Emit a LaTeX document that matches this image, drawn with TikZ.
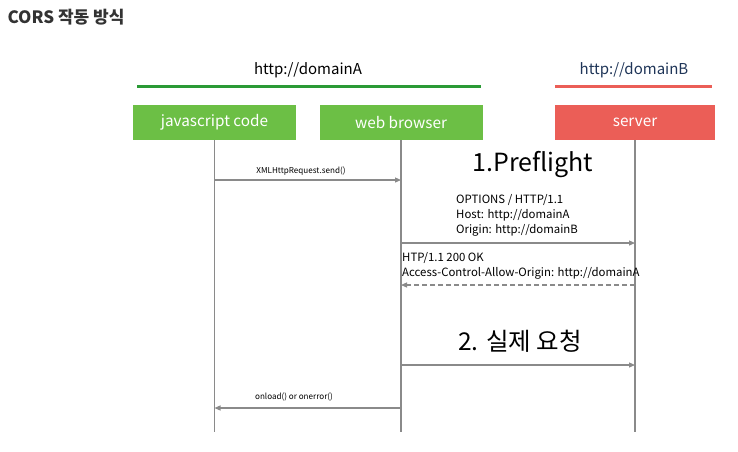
\documentclass[tikz,border=0pt]{standalone}
\usepackage{fontspec}
\setmainfont{Noto Sans CJK KR}
\usetikzlibrary{arrows.meta}
\definecolor{boxgreen}{HTML}{6CBF45}
\definecolor{linegreen}{HTML}{2A9A35}
\definecolor{boxred}{HTML}{EB5E57}
\definecolor{textblue}{HTML}{1F3558}
\definecolor{lifegray}{HTML}{8A8A8A}
\newcommand{\fsz}[1]{\fontsize{#1}{#1}\selectfont}

\begin{document}
\begin{tikzpicture}[x=1pt,y=-1pt,
  actor/.style={minimum width=163pt,minimum height=35pt,inner sep=0pt,text=white,font=\fsz{15.3}},
  life/.style={lifegray,line width=1.2pt},
  msg/.style={lifegray,line width=1.2pt,-{Triangle[length=6pt,width=5pt]}},
  small/.style={font=\fsz{8.1},inner sep=0pt},
  header/.style={anchor=north west,align=left,inner sep=0pt,font=\fontsize{11.4}{15}\selectfont}]
\useasboundingbox (0,0) rectangle (738,451);
\node[anchor=west,text=black!80,font=\fsz{17}\bfseries] (title) at (4,17) {CORS 작동 방식};

% domains
\node[font=\fsz{15}] (domA) at (308,70) {http://domainA};
\node[font=\fsz{15},text=textblue] (domB) at (634,70) {http://domainB};
\draw[linegreen,line width=3pt] (137,86) -- (481,86);
\draw[boxred,line width=3pt] (555,86) -- (712,86);

% actors
\node[actor,fill=boxgreen] (js) at (214.5,122.5) {javascript code};
\node[actor,fill=boxgreen] (browser) at (401,122.5) {web browser};
\node[actor,fill=boxred,minimum width=160pt] (server) at (635,122.5) {server};
\coordinate (js-end) at (214,432);
\coordinate (browser-end) at (401,432);
\coordinate (server-end) at (635,432);
\draw[life] (js) -- (js |- js-end);
\draw[life] (browser) -- (browser |- browser-end);
\draw[life] (server) -- (server |- server-end);

% messages
\node[small] (send) at (301,171) {XMLHttpRequest.send()};
\draw[msg] (js |- 0,180) -- (browser |- 0,180);

\node[font=\fsz{25},inner sep=0pt] (pre) at (533,165) {1.Preflight};
\node[header] (req) at (456,194)
  {OPTIONS / HTTP/1.1\\Host: http://domainA\\Origin: http://domainB};
\draw[msg] (browser |- 0,243) -- (server |- 0,243);

\node[header] (res) at (402,252)
  {HTP/1.1 200 OK\\Access-Control-Allow-Origin: http://domainA};
\draw[msg,dashed,dash pattern=on 5pt off 3pt] (server |- 0,285) -- (browser |- 0,285);

\node[font=\fsz{24.5},inner sep=0pt] (real) at (520,341) {2. 실제 요청};
\draw[msg] (browser |- 0,365) -- (server |- 0,365);

\node[small] (done) at (294,397) {onload() or onerror()};
\draw[msg] (browser |- 0,408) -- (js |- 0,408);
\end{tikzpicture}
\end{document}
